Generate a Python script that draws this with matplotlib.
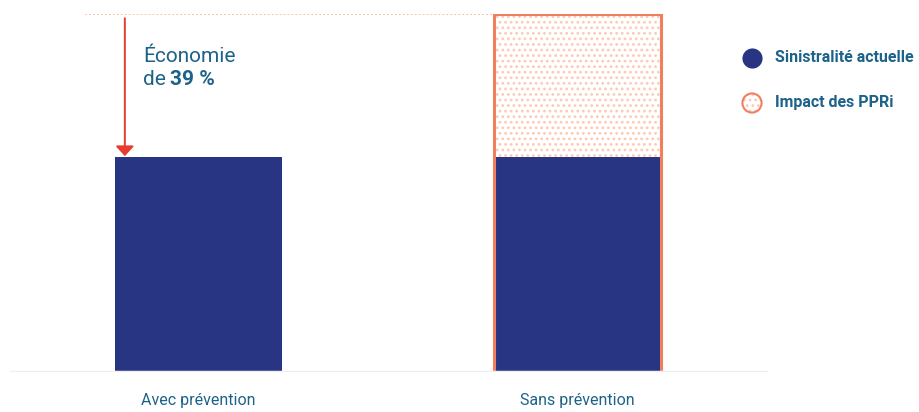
import matplotlib
matplotlib.use("Agg")
import matplotlib.pyplot as plt

plt.rcParams['font.family'] = ['Roboto', 'DejaVu Sans']
plt.rcParams['hatch.linewidth'] = 1.2

# données
categories = ["Avec prévention", "Sans prévention"]
sinistralite = [60, 60]
impact_ppri = [0, 40]
economie_label = "39 %"
legend_labels = ["Sinistralité actuelle", "Impact des PPRi"]

navy = '#283583'
orange = '#f07f5e'
salmon_light = '#fccab5'
text_col = '#1d6289'

fig = plt.figure(figsize=(9.2, 4.12), dpi=100)
W, H = 920, 412
ax = fig.add_axes([10 / W, (H - 372) / H, 758 / W, 358 / H])

x = [0, 1]
width = 0.44
total = [s + i for s, i in zip(sinistralite, impact_ppri)]

# barre hachurée (impact) puis barre pleine puis contour
ax.bar(x[1], impact_ppri[1], width, bottom=sinistralite[1], color='white',
       edgecolor=salmon_light, hatch='...', linewidth=0, zorder=2)
ax.bar(x, sinistralite, width, color=navy, linewidth=0, zorder=3)
ax.bar(x[1], total[1], width, fill=False, edgecolor=orange, linewidth=2.2,
       zorder=4)

ax.set_xlim(-0.497, 1.503)
ax.set_ylim(0, 100)

# ligne pointillée au niveau du total
ax.plot([-0.30, x[1] - width / 2], [total[1], total[1]], color='#f7b8a0',
        linestyle=(0, (1, 1.2)), linewidth=1.3, zorder=1)

# flèche d'économie
ax.annotate("", xy=(-0.194, sinistralite[0] + 0.3), xytext=(-0.194, total[1] - 1.2),
            arrowprops=dict(arrowstyle='-|>,head_length=0.6,head_width=0.55',
                            color='#e63b2e', lw=1.4, shrinkA=0, shrinkB=0))

fig.text(143 / W, 1 - 62 / H, "Économie", fontsize=15, color=text_col,
         va='baseline', ha='left')
fig.text(143 / W, 1 - 85 / H, "de", fontsize=15, color=text_col,
         va='baseline', ha='left')
fig.text(170 / W, 1 - 85 / H, economie_label, fontsize=15, color=text_col,
         fontweight='bold', va='baseline', ha='left')

# axes
for s in ax.spines.values():
    s.set_visible(False)
ax.axhline(0, color='#eeeef3', linewidth=2.5, zorder=5)
ax.set_yticks([])
ax.set_xticks(x)
ax.set_xticklabels(categories, fontsize=11.5, color=text_col)
ax.tick_params(axis='x', length=0, pad=15)

# légende manuelle
lx, ly1, ly2 = 752 / W, 1 - 58 / H, 1 - 103 / H
fig.add_artist(plt.Line2D([lx], [ly1], marker='o', markersize=14.5,
                          color=navy, markeredgewidth=0, transform=fig.transFigure))
ax.scatter([lx], [ly2], s=190, facecolor='white', edgecolor=salmon_light,
           hatch='...', linewidth=0, transform=fig.transFigure, clip_on=False)
ax.scatter([lx], [ly2], s=190, facecolor='none', edgecolor=orange,
           linewidth=1.5, transform=fig.transFigure, clip_on=False)
fig.text(775 / W, ly1, legend_labels[0], fontsize=11.5, fontweight='bold',
         color=text_col, va='center', ha='left')
fig.text(775 / W, ly2, legend_labels[1], fontsize=11.5, fontweight='bold',
         color=text_col, va='center', ha='left')

fig.savefig("out.png", dpi=100)
